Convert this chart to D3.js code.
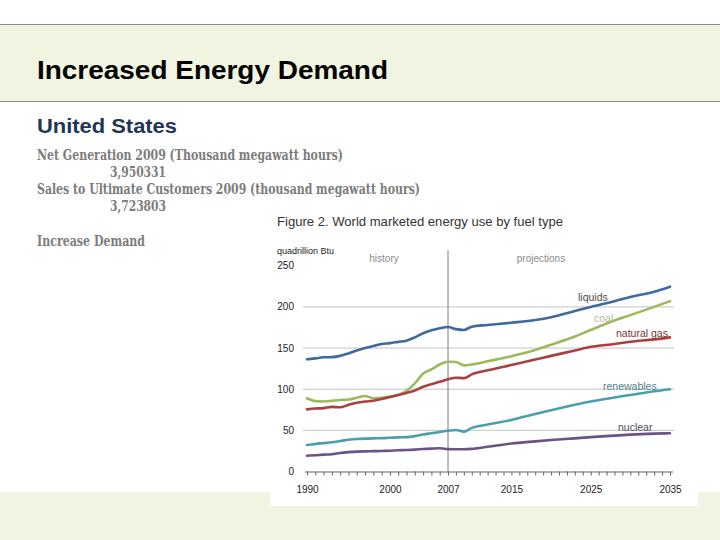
<!DOCTYPE html>
<html>
<head>
<meta charset="utf-8">
<script src="https://cdn.jsdelivr.net/npm/d3@7"></script>
<style>
  html, body { margin: 0; padding: 0; background: #ffffff; }
  svg { display: block; }
</style>
</head>
<body>
<svg id="chart" width="720" height="540"></svg>
<script>
// ---------- data ----------
const years = [1990,1991,1992,1993,1994,1995,1996,1997,1998,1999,2000,2001,2002,2003,2004,2005,2006,2007,2008,2009,2010,2012,2015,2018,2020,2023,2025,2028,2030,2033,2035];
const liquids = [136.3,137.5,138.8,139,140.5,143.5,147,150,152.5,155,156,157.5,159,163,168,171.5,174,175.5,173,172,176,178,180.8,184,187.4,195,200,207,212,218.5,224.6];
const coal = [89,85.5,85,86,86.9,87.5,89.5,91.7,89,89.5,91,93,98,107,119,124,130,133.4,133,129,130,134,140,147.6,154,164,172,183.5,190,200,207];
const naturalGas = [75.5,76.5,77,78.5,78,81,83.5,85,86,88,90.5,93,95.5,98.5,103,106,109,112,114,113.5,118,123,129.4,136,140.5,147,151.5,155,157.7,160.5,163];
const renewables = [32.2,33.5,34.5,35.5,37,38.5,39.5,40,40.3,40.5,41,41.5,41.8,43,45,46.5,48,49.5,50.5,48.5,53,57,62.6,70,74.5,81,85,90,93,97.5,100];
const nuclear = [19.2,19.8,20.5,21,22.5,23.5,24.2,24.5,24.7,25,25.3,25.8,26.1,26.6,27.3,27.8,28.2,27.2,27,27,27.5,30,34,36.6,38.2,40.3,41.8,43.6,44.8,46,46.5];
const seriesNames = ["liquids","coal","natural gas","renewables","nuclear"];
const yTicks = [0,50,100,150,200,250];
const xTickLabels = [1990,2000,2007,2015,2025,2035];
const textLines = [
  "Net Generation 2009 (Thousand megawatt hours)",
  "3,950331",
  "Sales to Ultimate Customers 2009 (thousand megawatt hours)",
  "3,723803",
  "Increase Demand"
];

// ---------- styles ----------
const colors = { "liquids":"#3e6a9f", "coal":"#9cba5c", "natural gas":"#a84143", "renewables":"#4a9fae", "nuclear":"#6b5388" };
const labelColors = { "liquids":"#4a4a4a", "coal":"#b3b79a", "natural gas":"#7a3434", "renewables":"#4f7f88", "nuclear":"#514a5c" };
const seriesData = {
  "liquids": liquids, "coal": coal, "natural gas": naturalGas,
  "renewables": renewables, "nuclear": nuclear
};

const svg = d3.select("#chart");

// ---------- slide background ----------
svg.append("rect").attr("x",0).attr("y",24).attr("width",720).attr("height",77).attr("fill","#f1f4e1");
svg.append("line").attr("x1",0).attr("x2",720).attr("y1",24.5).attr("y2",24.5).attr("stroke","#8c8c86").attr("stroke-width",1.2);
svg.append("line").attr("x1",0).attr("x2",720).attr("y1",101.5).attr("y2",101.5).attr("stroke","#8c8c86").attr("stroke-width",1.2);
svg.append("rect").attr("x",0).attr("y",492).attr("width",720).attr("height",48).attr("fill","#f1f4e1");

svg.append("text").attr("x",37).attr("y",79)
  .attr("font-family","'Liberation Sans', Arial, sans-serif").attr("font-weight","bold")
  .attr("font-size",26).attr("fill","#000").attr("textLength",351).attr("lengthAdjust","spacingAndGlyphs")
  .text("Increased Energy Demand");

svg.append("text").attr("x",37).attr("y",133)
  .attr("font-family","'Liberation Sans', Arial, sans-serif").attr("font-weight","bold")
  .attr("font-size",20).attr("fill","#1f3656").attr("textLength",140).attr("lengthAdjust","spacingAndGlyphs")
  .text("United States");

const lineSpecs = [
  {x:37, y:160, w:306},
  {x:110, y:177, w:56},
  {x:37, y:194, w:383},
  {x:110, y:211, w:56},
  {x:37, y:246, w:108}
];
textLines.forEach((t,i)=>{
  svg.append("text").attr("x",lineSpecs[i].x).attr("y",lineSpecs[i].y)
    .attr("font-family","'DejaVu Serif', 'Liberation Serif', serif")
    .attr("font-size",14).attr("font-weight","bold").attr("fill","#7c7c7c")
    .attr("textLength",lineSpecs[i].w).attr("lengthAdjust","spacingAndGlyphs")
    .text(t);
});

// ---------- embedded chart ----------
svg.append("rect").attr("x",270).attr("y",212).attr("width",428).attr("height",294).attr("fill","#ffffff");

const x = d3.scaleLinear().domain([1990,2007,2035]).range([307,448,670]);
const y = d3.scaleLinear().domain([0,250]).range([471.5,265.75]);

const sans = "'Liberation Sans', Arial, sans-serif";

svg.append("text").attr("x",277).attr("y",226).attr("font-family",sans)
  .attr("font-size",12.5).attr("fill","#333").attr("textLength",286).attr("lengthAdjust","spacingAndGlyphs")
  .text("Figure 2. World marketed energy use by fuel type");
svg.append("text").attr("x",277).attr("y",254).attr("font-family",sans)
  .attr("font-size",9).attr("fill","#222").text("quadrillion Btu");

// gridlines
const g = svg.append("g");
g.selectAll("line.grid").data(yTicks.filter(v=>v>0 && v<250)).enter().append("line")
  .attr("x1",303).attr("x2",674).attr("y1",d=>y(d)).attr("y2",d=>y(d))
  .attr("stroke","#c4c4c4").attr("stroke-width",1);

// y tick labels
g.selectAll("text.ytick").data(yTicks).enter().append("text")
  .attr("x",294).attr("y",d=>y(d)+3.5).attr("text-anchor","end")
  .attr("font-family",sans).attr("font-size",10).attr("fill","#222").text(d=>d);

// history / projections divider
g.append("line").attr("x1",x(2007)).attr("x2",x(2007)).attr("y1",250).attr("y2",y(0))
  .attr("stroke","#7a7a7a").attr("stroke-width",1);
g.append("text").attr("x",384).attr("y",262).attr("text-anchor","middle")
  .attr("font-family",sans).attr("font-size",10).attr("fill","#8a8a8a").text("history");
g.append("text").attr("x",541).attr("y",262).attr("text-anchor","middle")
  .attr("font-family",sans).attr("font-size",10).attr("fill","#8a8a8a").text("projections");

// x axis
const xAxis = d3.axisBottom(x).tickValues(d3.range(1990,2036)).tickSize(4).tickSizeOuter(0)
  .tickFormat(d => xTickLabels.includes(d) ? String(d) : "");
const ax = svg.append("g").attr("transform",`translate(0,${y(0)})`).call(xAxis);
ax.select(".domain").attr("stroke","#666").attr("d","M305,0.5H673");
ax.selectAll(".tick line").attr("stroke","#666");
ax.selectAll(".tick text").attr("font-family",sans).attr("font-size",10).attr("fill","#222").attr("dy","1.45em");

// series lines
const line = d3.line().x((d,i)=>x(years[i])).y(d=>y(d)).curve(d3.curveMonotoneX);
seriesNames.forEach(name=>{
  svg.append("path").datum(seriesData[name]).attr("d",line)
    .attr("fill","none").attr("stroke",colors[name]).attr("stroke-width",2.6)
    .attr("stroke-linejoin","round").attr("stroke-linecap","round");
});

// series labels
const labelPos = {
  "liquids":{x:578, y:301}, "coal":{x:594, y:322}, "natural gas":{x:616, y:337},
  "renewables":{x:603, y:390}, "nuclear":{x:618, y:431}
};
seriesNames.forEach(name=>{
  svg.append("text").attr("x",labelPos[name].x).attr("y",labelPos[name].y)
    .attr("font-family",sans).attr("font-size",10.5).attr("fill",labelColors[name]).text(name);
});
</script>
</body>
</html>
